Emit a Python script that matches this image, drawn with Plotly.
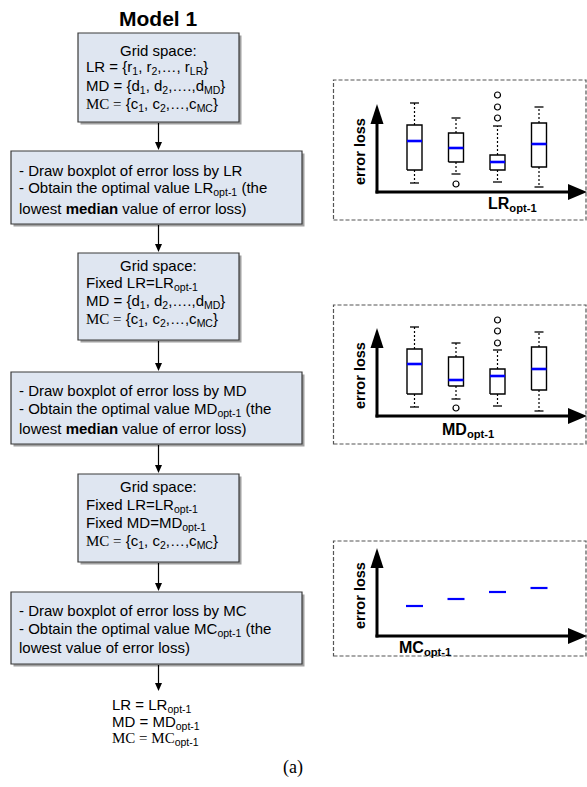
import plotly.graph_objects as go

# ---------------- data ----------------
groups = [1, 2, 3, 4]

lr_upper = [89, 74, 66, 85]
lr_q3 = [67, 59, 37, 69]
lr_median = [51, 44, 30, 48]
lr_q1 = [22, 30, 22, 25]
lr_lower = [9, 18, 10, 5]
lr_outliers = [[], [8], [97, 85, 74], []]

md_upper = [89, 73, 66, 84]
md_q3 = [67, 59, 47, 69]
md_median = [52, 36, 40, 47]
md_q1 = [22, 30, 22, 26]
md_lower = [9, 17, 10, 5]
md_outliers = [[], [8], [96, 85, 73], []]

mc_values = [30, 37, 44, 48]

# ---------------- helpers ----------------
W, H = 587, 787
SANS = "Arial, Liberation Sans, sans-serif"
SERIF = "Times New Roman, Liberation Serif, serif"


def px(x):
    return x / W


def py(y):
    return 1 - y / H


fig = go.Figure()
shapes = []
annotations = []

# ---------------- inset axes ----------------
insets = [
    dict(ax="", base=192, top=80, bottom=220, label="LR<sub>opt-1</sub>", lx=512, ly=205),
    dict(ax="2", base=416, top=305, bottom=444, label="MD<sub>opt-1</sub>", lx=468, ly=430),
    dict(ax="3", base=636, top=541, bottom=656, label="MC<sub>opt-1</sub>", lx=425, ly=648),
]
X0PX, X1PX = 377, 587
PXU = 41.5
xr0 = 1 - 37.5 / PXU
xr1 = xr0 + (X1PX - X0PX) / PXU
layout_axes = {}
for ins in insets:
    b = ins["base"]
    layout_axes["xaxis" + ins["ax"]] = dict(domain=[px(X0PX), px(X1PX)], range=[xr0, xr1],
                                            visible=False, fixedrange=True,
                                            anchor="y" + ins["ax"])
    layout_axes["yaxis" + ins["ax"]] = dict(domain=[py(b), py(b - 100)], range=[0, 100],
                                            visible=False, fixedrange=True,
                                            anchor="x" + ins["ax"])
    # dashed frame
    shapes.append(dict(type="rect", xref="paper", yref="paper",
                       x0=px(333.5), x1=px(586), y0=py(ins["bottom"]), y1=py(ins["top"]),
                       line=dict(color="#555", width=1.2, dash="4px,2px"), layer="below"))
    # axis lines
    tip = b - 88
    shapes.append(dict(type="line", xref="paper", yref="paper",
                       x0=px(377), x1=px(377), y0=py(b + 1.5), y1=py(tip + 10),
                       line=dict(color="black", width=3)))
    shapes.append(dict(type="line", xref="paper", yref="paper",
                       x0=px(375.5), x1=px(575), y0=py(b), y1=py(b),
                       line=dict(color="black", width=3)))
    shapes.append(dict(type="path", xref="paper", yref="paper",
                       path=f"M {px(377)},{py(tip)} L {px(383.5)},{py(tip + 20)} L {px(370.5)},{py(tip + 20)} Z",
                       fillcolor="black", line=dict(color="black", width=0)))
    shapes.append(dict(type="path", xref="paper", yref="paper",
                       path=f"M {px(587)},{py(b)} L {px(568)},{py(b - 8)} L {px(568)},{py(b + 8)} Z",
                       fillcolor="black", line=dict(color="black", width=0)))
    annotations.append(dict(xref="paper", yref="paper", x=px(360), y=py(b - 40),
                            text="<b>error loss</b>", textangle=-90, showarrow=False,
                            font=dict(family=SANS, size=14.5, color="black"),
                            xanchor="center", yanchor="middle"))
    annotations.append(dict(xref="paper", yref="paper", x=px(ins["lx"]), y=py(ins["ly"]),
                            text="<b>" + ins["label"] + "</b>", showarrow=False,
                            font=dict(family=SANS, size=16, color="black"),
                            xanchor="center", yanchor="middle"))


def add_boxes(ax, upper, q3, med, q1, lower, outl):
    hw = 7.5 / PXU
    cw = 4.5 / PXU
    bx, by, wx, wy, cx, cy, mx, my, ox, oy = [], [], [], [], [], [], [], [], [], []
    for i, g in enumerate(groups):
        bx += [g - hw, g + hw, g + hw, g - hw, g - hw, None]
        by += [q1[i], q1[i], q3[i], q3[i], q1[i], None]
        wx += [g, g, None, g, g, None]
        wy += [q3[i], upper[i], None, q1[i], lower[i], None]
        cx += [g - cw, g + cw, None, g - cw, g + cw, None]
        cy += [upper[i], upper[i], None, lower[i], lower[i], None]
        mx += [g - hw, g + hw, None]
        my += [med[i], med[i], None]
        for o in outl[i]:
            ox.append(g)
            oy.append(o)
    kw = dict(xaxis="x" + ax, yaxis="y" + ax, showlegend=False, hoverinfo="skip", cliponaxis=False)
    fig.add_trace(go.Scatter(x=wx, y=wy, mode="lines", line=dict(color="black", width=1.2, dash="2px,2px"), **kw))
    fig.add_trace(go.Scatter(x=cx, y=cy, mode="lines", line=dict(color="black", width=1.3), **kw))
    fig.add_trace(go.Scatter(x=bx, y=by, mode="lines", line=dict(color="black", width=1.4),
                             fill="toself", fillcolor="white", **kw))
    fig.add_trace(go.Scatter(x=mx, y=my, mode="lines", line=dict(color="#0000ff", width=2.6), **kw))
    fig.add_trace(go.Scatter(x=ox, y=oy, mode="markers",
                             marker=dict(symbol="circle-open", size=6, color="black", line=dict(width=1.2)), **kw))


add_boxes("", lr_upper, lr_q3, lr_median, lr_q1, lr_lower, lr_outliers)
add_boxes("2", md_upper, md_q3, md_median, md_q1, md_lower, md_outliers)

mx, my = [], []
hw3 = 8.5 / PXU
for i, g in enumerate(groups):
    mx += [g - hw3, g + hw3, None]
    my += [mc_values[i], mc_values[i], None]
fig.add_trace(go.Scatter(x=mx, y=my, mode="lines", line=dict(color="#0000ff", width=2.2),
                         xaxis="x3", yaxis="y3", showlegend=False, hoverinfo="skip"))

# ---------------- flowchart ----------------
boxes = [
    (78, 33, 239, 122),
    (11, 151, 302, 224),
    (78, 253, 239, 340),
    (11, 372, 302, 444),
    (78, 474, 239, 562),
    (11, 592, 302, 664),
]
for (x0, y0, x1, y1) in boxes:
    shapes.append(dict(type="rect", xref="paper", yref="paper",
                       x0=px(x0 + 2.5), x1=px(x1 + 2.5), y0=py(y1 + 2.5), y1=py(y0 + 2.5),
                       fillcolor="#a0a0a0", line=dict(width=0), layer="below"))
    shapes.append(dict(type="rect", xref="paper", yref="paper",
                       x0=px(x0), x1=px(x1), y0=py(y1), y1=py(y0),
                       fillcolor="#dfe6f1", line=dict(color="#3a3a3a", width=1.2), layer="below"))

arrows = [(122, 151), (224, 253), (340, 372), (444, 474), (562, 592), (664, 692)]
for (a, b) in arrows:
    shapes.append(dict(type="line", xref="paper", yref="paper",
                       x0=px(158.5), x1=px(158.5), y0=py(a + 1), y1=py(b - 6),
                       line=dict(color="black", width=1.2)))
    shapes.append(dict(type="path", xref="paper", yref="paper",
                       path=f"M {px(158.5)},{py(b - 1)} L {px(162)},{py(b - 9)} L {px(155)},{py(b - 9)} Z",
                       fillcolor="black", line=dict(width=0)))


def txt(x, y, s, anchor="left", size=15, family=SANS):
    annotations.append(dict(xref="paper", yref="paper", x=px(x), y=py(y), text=s,
                            showarrow=False, xanchor=anchor, yanchor="middle",
                            font=dict(family=family, size=size, color="black")))


MCS = f'<span style="font-family:{SERIF}">MC =</span>'

txt(158, 19, "<b>Model 1</b>", anchor="center", size=21)

txt(158, 50, "Grid space:", anchor="center")
txt(84, 68, "LR = {r<sub>1</sub>, r<sub>2</sub>,…, r<sub>LR</sub>}")
txt(84, 86, "MD = {d<sub>1</sub>, d<sub>2</sub>,….,d<sub>MD</sub>}")
txt(84, 104, MCS + " {c<sub>1</sub>, c<sub>2</sub>,…,c<sub>MC</sub>}")

txt(17, 170, "- Draw boxplot of error loss by LR")
txt(17, 189, "- Obtain the optimal value LR<sub>opt-1</sub> (the")
txt(17, 208, "lowest <b>median</b> value of error loss)")

txt(158, 265, "Grid space:", anchor="center")
txt(84, 283, "Fixed LR=LR<sub>opt-1</sub>")
txt(84, 301, "MD = {d<sub>1</sub>, d<sub>2</sub>,….,d<sub>MD</sub>}")
txt(84, 319, MCS + " {c<sub>1</sub>, c<sub>2</sub>,…,c<sub>MC</sub>}")

txt(17, 390, "- Draw boxplot of error loss by MD")
txt(17, 409, "- Obtain the optimal value MD<sub>opt-1</sub> (the")
txt(17, 428, "lowest <b>median</b> value of error loss)")

txt(158, 486, "Grid space:", anchor="center")
txt(84, 505, "Fixed LR=LR<sub>opt-1</sub>")
txt(84, 523, "Fixed MD=MD<sub>opt-1</sub>")
txt(84, 541, MCS + " {c<sub>1</sub>, c<sub>2</sub>,…,c<sub>MC</sub>}")

txt(17, 610, "- Draw boxplot of error loss by MC")
txt(17, 629, "- Obtain the optimal value MC<sub>opt-1</sub> (the")
txt(17, 647, "lowest value of error loss)")

txt(110, 705, "LR = LR<sub>opt-1</sub>", size=15)
txt(110, 722, "MD = MD<sub>opt-1</sub>", size=15)
txt(110, 739, f'<span style="font-family:{SERIF}">MC = MC</span><sub>opt-1</sub>', size=15)

txt(293, 767, "(a)", anchor="center", size=18, family=SERIF)

fig.update_layout(width=W, height=H, margin=dict(l=0, r=0, t=0, b=0),
                  paper_bgcolor="white", plot_bgcolor="rgba(0,0,0,0)",
                  shapes=shapes, annotations=annotations, showlegend=False,
                  **layout_axes)
fig.write_html("out.html", config={"displayModeBar": False},
               post_script="document.body.style.margin='0';document.body.style.overflow='hidden';")
